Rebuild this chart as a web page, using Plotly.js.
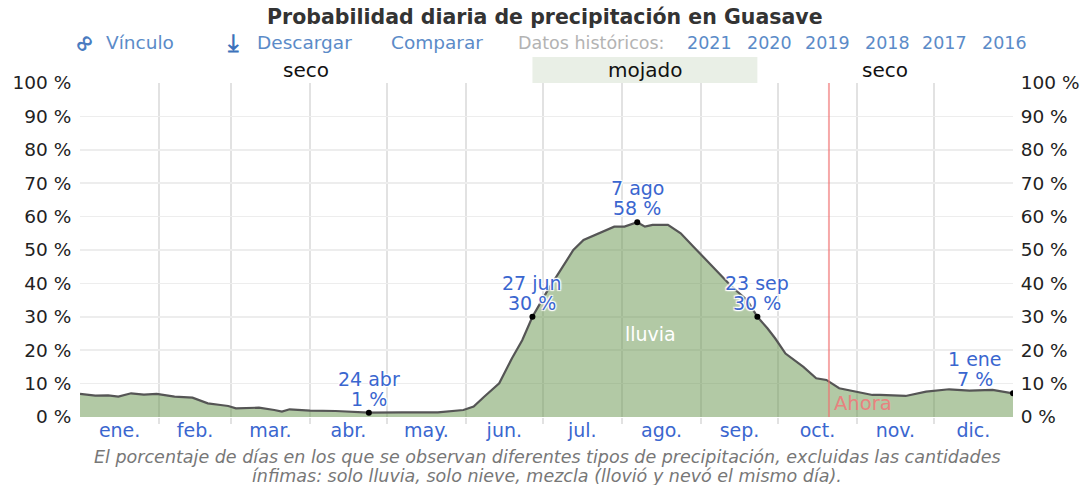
<!DOCTYPE html>
<html>
<head>
<meta charset="utf-8">
<script src="https://cdn.plot.ly/plotly-3.0.1.min.js"></script>
<style>html,body{margin:0;padding:0;background:#fff;}#chart{width:1082px;height:485px;}</style>
</head>
<body>
<div id="chart"></div>
<script>
// ---- Data ----
// day of year (0 = 1 ene, 365 = 1 ene del año siguiente)
const days = [0, 6, 11, 15, 20, 25, 30, 37, 44, 50, 55, 58, 61, 70, 76, 79, 82, 90, 100, 113, 126, 140, 150, 154, 158, 164, 169, 173, 177, 183, 188, 193, 197, 203, 209, 213, 218, 221, 224, 230, 235, 240, 245, 250, 255, 261, 265, 269, 272, 276, 283, 288, 292, 297, 304, 310, 313, 323, 331, 340, 348, 357, 365];
const probRain = [6.9, 6.4, 6.5, 6.1, 7.1, 6.7, 6.9, 6.1, 5.8, 4.1, 3.6, 3.3, 2.6, 2.8, 2.1, 1.6, 2.3, 1.9, 1.8, 1.3, 1.4, 1.4, 2.1, 3.1, 6.0, 10.1, 17.6, 23, 30, 38, 44, 50, 53, 55, 57, 57, 58.3, 57, 57.5, 57.5, 55, 51, 47, 43, 39, 35, 30, 26.5, 23.5, 19, 15, 11.6, 11.1, 8.6, 7.6, 6.6, 6.6, 6.3, 7.6, 8.3, 7.9, 8.1, 7.1];

const monthLabels = ['ene.', 'feb.', 'mar.', 'abr.', 'may.', 'jun.', 'jul.', 'ago.', 'sep.', 'oct.', 'nov.', 'dic.'];
const monthStarts = [0, 31, 59, 90, 120, 151, 181, 212, 243, 273, 304, 334, 365];

const markDays = [113, 177, 218, 265, 365];
const markDates = ['24 abr', '27 jun', '7 ago', '23 sep', '1 ene'];
const markPct = [1, 30, 58, 30, 7];

const seasonNames = ['seco', 'mojado', 'seco'];
const seasonStart = [0, 177, 265];
const seasonEnd = [177, 265, 365];
const seasonWet = [false, true, false];

const nowDay = 293;
const yTicks = [0, 10, 20, 30, 40, 50, 60, 70, 80, 90, 100];
const yTickText = yTicks.map(v => v + ' %');

const titleText = 'Probabilidad diaria de precipitación en Guasave';
const linkTexts = ['Vínculo', 'Descargar', 'Comparar'];
const histLabel = 'Datos históricos:';
const histYears = ['2021', '2020', '2019', '2018', '2017', '2016'];
const captionLines = ['El porcentaje de días en los que se observan diferentes tipos de precipitación, excluidas las cantidades',
                      'ínfimas: solo lluvia, solo nieve, mezcla (llovió y nevó el mismo día).'];

// ---- Layout helpers (pixel -> paper) ----
const L = 80, R = 1013, T = 83, B = 417;
const px = x => (x - L) / (R - L);
const py = y => (B - y) / (B - T);

const FONT = 'DejaVu Sans, Verdana, sans-serif';
const mids = monthLabels.map((m, i) => (monthStarts[i] + monthStarts[i + 1]) / 2);
const markY = markDays.map(d => probRain[days.indexOf(d)]);

const halo = 'white 1px 1px 1px, white -1px -1px 1px, white 1px -1px 1px, white -1px 1px 1px, white 0 0 3px';
const blue = '#3a66cf';
const linkBlue = '#5b8bc8';

const traces = [
  {
    x: days, y: probRain, type: 'scatter', mode: 'lines',
    fill: 'tozeroy', fillcolor: 'rgba(101,147,75,0.5)',
    line: {color: '#555555', width: 2.2, shape: 'linear'},
    hoverinfo: 'skip', showlegend: false
  },
  {
    x: markDays, y: markY, type: 'scatter', mode: 'markers', yaxis: 'y2',
    marker: {color: '#000', size: 6},
    hoverinfo: 'skip', showlegend: false
  }
];

const annotations = [];
markDays.forEach((d, i) => {
  const xs = (d === 365 ? -38 : 0);
  const f = {family: FONT, size: 19, color: blue, shadow: halo};
  annotations.push({
    x: d, y: markY[i], xref: 'x', yref: 'y', text: markDates[i],
    showarrow: false, xanchor: 'center', yanchor: 'middle', yshift: 34, xshift: xs, font: f
  });
  annotations.push({
    x: d, y: markY[i], xref: 'x', yref: 'y', text: markPct[i] + ' %',
    showarrow: false, xanchor: 'center', yanchor: 'middle', yshift: 14, xshift: xs, font: f
  });
});
seasonNames.forEach((s, i) => {
  annotations.push({
    x: (seasonStart[i] + seasonEnd[i]) / 2, y: py(70), xref: 'x', yref: 'paper',
    text: s, showarrow: false, xanchor: 'center', yanchor: 'middle',
    font: {family: FONT, size: 20, color: '#111'}
  });
});
annotations.push({
  x: 223, y: 25, xref: 'x', yref: 'y', text: 'lluvia', showarrow: false,
  font: {family: FONT, size: 19, color: '#ffffff'}
});
annotations.push({
  x: nowDay, y: 4, xref: 'x', yref: 'y', text: 'Ahora', showarrow: false,
  xanchor: 'left', yanchor: 'middle', xshift: 3,
  font: {family: FONT, size: 19.5, color: '#e8827f'}
});
// title
annotations.push({
  x: px(545), y: py(17), xref: 'paper', yref: 'paper', text: '<b>' + titleText + '</b>',
  showarrow: false, xanchor: 'center', yanchor: 'middle',
  font: {family: FONT, size: 20.5, color: '#333'}
});
// links row
const linkLeft = [104, 255, 389];
linkTexts.forEach((t, i) => {
  annotations.push({
    x: px(linkLeft[i]), y: py(43), xref: 'paper', yref: 'paper', text: t,
    showarrow: false, xanchor: 'left', yanchor: 'middle',
    font: {family: FONT, size: 18.5, color: linkBlue}
  });
});
annotations.push({
  x: px(84), y: py(43), xref: 'paper', yref: 'paper', text: '<b>∞</b>', textangle: -45,
  showarrow: false, xanchor: 'center', yanchor: 'middle',
  font: {family: FONT, size: 24, color: '#4a7cc0'}
});
annotations.push({
  x: px(233), y: py(43), xref: 'paper', yref: 'paper', text: '<b>⤓</b>',
  showarrow: false, xanchor: 'center', yanchor: 'middle',
  font: {family: FONT, size: 24, color: '#3d72bb'}
});
annotations.push({
  x: px(516), y: py(43), xref: 'paper', yref: 'paper', text: histLabel,
  showarrow: false, xanchor: 'left', yanchor: 'middle',
  font: {family: FONT, size: 17.5, color: '#b3b3b3'}
});
const yearLeft = [685, 745, 803, 863, 920, 980];
histYears.forEach((t, i) => {
  annotations.push({
    x: px(yearLeft[i]), y: py(43), xref: 'paper', yref: 'paper', text: t,
    showarrow: false, xanchor: 'left', yanchor: 'middle',
    font: {family: FONT, size: 17.5, color: linkBlue}
  });
});
// caption (one annotation per line)
const captionY = [457, 476];
captionLines.forEach((t, i) => {
  annotations.push({
    x: px(547), y: py(captionY[i]), xref: 'paper', yref: 'paper',
    text: '<i>' + t + '</i>',
    showarrow: false, xanchor: 'center', yanchor: 'middle',
    font: {family: FONT, size: 17.5, color: '#777'}
  });
});

const shapes = [];
seasonNames.forEach((s, i) => {
  if (seasonWet[i]) {
    shapes.push({type: 'rect', xref: 'x', yref: 'paper', x0: seasonStart[i], x1: seasonEnd[i],
      y0: 1, y1: py(57), fillcolor: '#e9efe6', line: {width: 0}, layer: 'below'});
  }
});
shapes.push({type: 'line', xref: 'x', yref: 'paper', x0: nowDay, x1: nowDay, y0: 0, y1: 1,
  line: {color: 'rgba(240,110,110,0.6)', width: 2}, layer: 'above'});

const axisFont = {family: FONT, size: 18.5, color: '#222'};

const layout = {
  width: 1082, height: 485,
  margin: {l: L, r: 1082 - R, t: T, b: 485 - B, pad: 0},
  paper_bgcolor: '#fff', plot_bgcolor: '#fff',
  showlegend: false,
  font: axisFont,
  xaxis: {
    range: [0, 365], tickmode: 'array', tickvals: mids, ticktext: monthLabels,
    showgrid: false, zeroline: false, showline: false, ticks: '',
    tickfont: {family: FONT, size: 19, color: '#3a66cf'},
    minor: {tickmode: 'array', tickvals: monthStarts.slice(1, 12), showgrid: true,
      gridcolor: '#e2e2e2', gridwidth: 2, ticks: 'outside', ticklen: 6, tickcolor: '#e2e2e2', tickwidth: 2},
    fixedrange: true
  },
  yaxis: {
    range: [0, 100], tickmode: 'array', tickvals: yTicks, ticktext: yTickText,
    showgrid: true, gridcolor: '#ededed', gridwidth: 1.5, zeroline: false, showline: false,
    ticks: 'outside', ticklen: 4, tickcolor: 'rgba(0,0,0,0)', tickfont: axisFont, fixedrange: true
  },
  yaxis2: {
    range: [0, 100], tickmode: 'array', tickvals: yTicks, ticktext: yTickText,
    overlaying: 'y', side: 'right', showgrid: false, zeroline: false, showline: false,
    ticks: 'outside', ticklen: 3, tickcolor: 'rgba(0,0,0,0)', tickfont: axisFont, fixedrange: true
  },
  annotations: annotations,
  shapes: shapes
};

Plotly.newPlot('chart', traces, layout, {displayModeBar: false, staticPlot: true});
</script>
</body>
</html>
